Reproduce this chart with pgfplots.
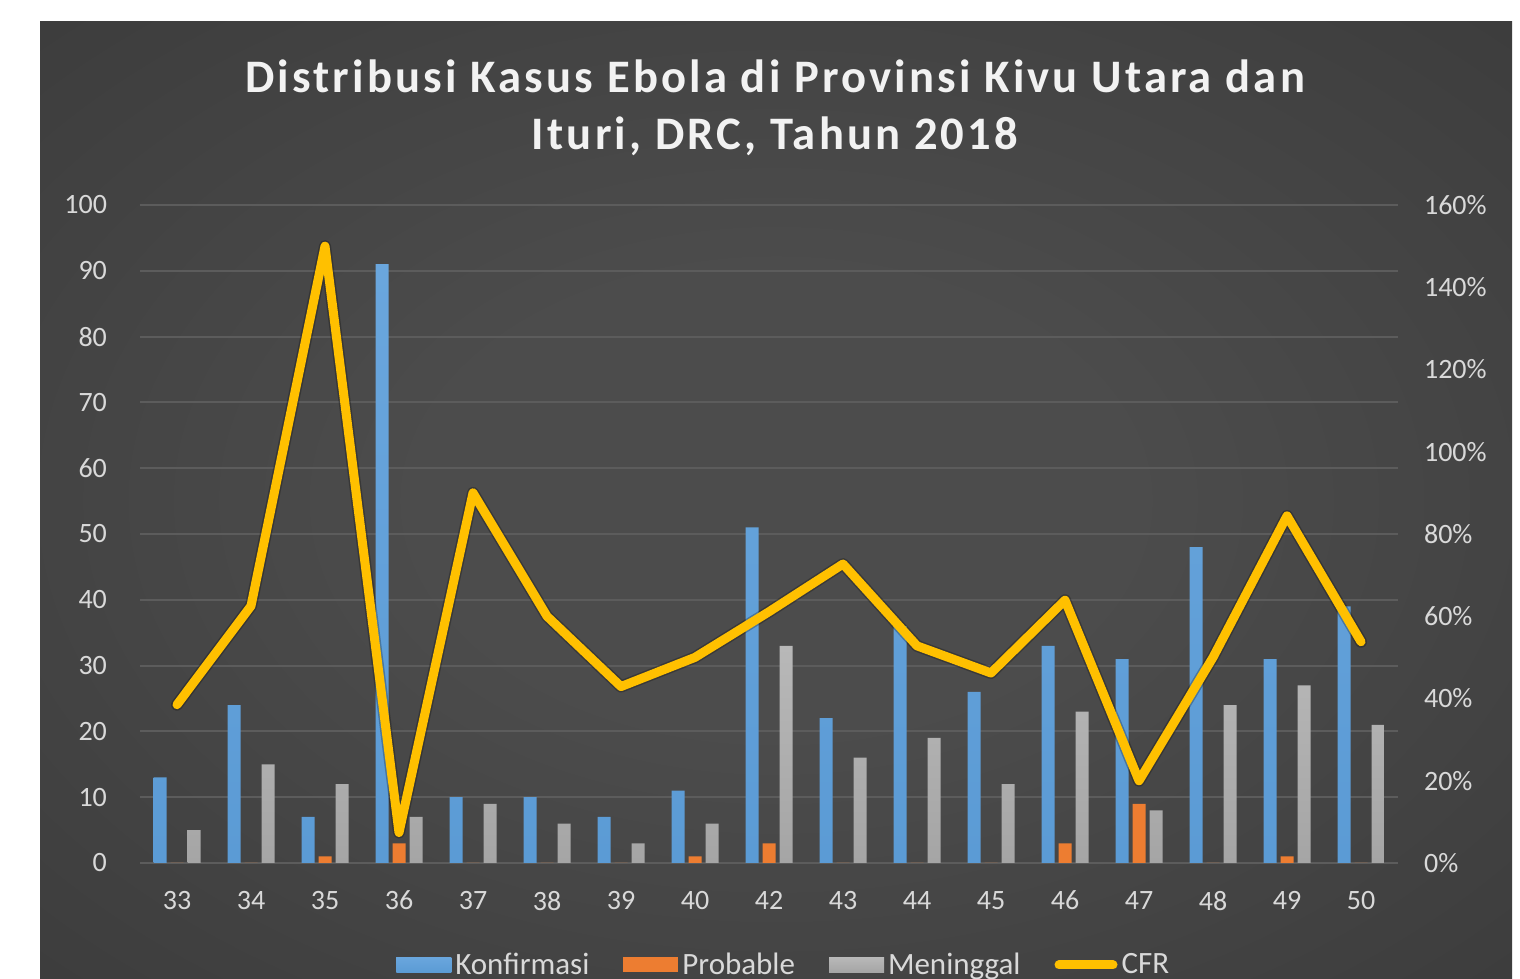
\documentclass[border=0pt]{standalone}
\usepackage{pgfplots}
\pgfplotsset{compat=1.18}
\usepackage{fontspec}
\setmainfont{Carlito}
\newfontfamily\titlefont[LetterSpace=6.8]{Carlito}
\definecolor{konf}{HTML}{5B9BD5}
\definecolor{konftop}{HTML}{6AA6DD}
\definecolor{prob}{HTML}{ED7D31}
\definecolor{mening}{HTML}{A5A5A5}
\definecolor{meningtop}{HTML}{B8B8B8}
\definecolor{cfr}{HTML}{FFC000}
\definecolor{bgin}{HTML}{4C4C4C}
\definecolor{bgout}{HTML}{252525}
\definecolor{gridc}{HTML}{5C5C5C}
\definecolor{basec}{HTML}{BFBFBF}
\definecolor{labc}{HTML}{D9D9D9}
\definecolor{titc}{HTML}{F2F2F2}
\pgfdeclareradialshading{bgshade}{\pgfpoint{0bp}{0bp}}{color(0bp)=(bgin); color(12bp)=(bgin); color(72bp)=(bgout)}
\pgfplotstableread{
x konf prob mening cfr
0 13 0 5 38.5
1 24 0 15 62.5
2 7 1 12 150
3 91 3 7 7.4
4 10 0 9 90
5 10 0 6 60
6 7 0 3 42.9
7 11 1 6 50
8 51 3 33 61.1
9 22 0 16 72.7
10 36 0 19 52.8
11 26 0 12 46.2
12 33 3 23 63.9
13 31 9 8 20
14 48 0 24 50
15 31 1 27 84.4
16 39 0 21 53.8
}\datatable
\begin{document}
\begin{tikzpicture}
\useasboundingbox (0,0) rectangle (760pt,489.5pt);
\clip (0,0) rectangle (760pt,489.5pt);
\fill[white] (0,0) rectangle (760pt,489.5pt);
\shade[shading=bgshade] (20pt,0pt) rectangle (756pt,478.5pt);
\node[anchor=base, text=titc, inner sep=0pt, font=\titlefont\bfseries\fontsize{23.3}{28}\selectfont] at (387.5pt,443pt) {Distribusi Kasus Ebola di Provinsi Kivu Utara dan};
\node[anchor=base, text=titc, inner sep=0pt, font=\titlefont\bfseries\fontsize{23.3}{28}\selectfont] at (387.5pt,414.5pt) {Ituri, DRC, Tahun 2018};
\begin{axis}[
  at={(70pt,58pt)}, anchor=south west, scale only axis,
  width=629pt, height=329pt,
  xmin=-0.5, xmax=16.5, ymin=0, ymax=100,
  xtick={0,...,16},
  xticklabels={33,34,35,36,37,38,39,40,42,43,44,45,46,47,48,49,50},
  ytick={0,10,...,100},
  axis line style={draw=none},
  major tick length=0pt,
  ymajorgrids, major grid style={color=gridc, line width=1pt},
  extra y ticks={0}, extra y tick labels={},
  extra y tick style={grid style={color=basec, line width=1.2pt}},
  /pgf/number format/assume math mode=true,
  tick label style={font=\fontsize{14}{16}\selectfont, text=labc},
  yticklabel style={xshift=-13pt},
  xticklabel style={yshift=-10.5pt},
  legend style={at={(0.5125,-0.155)}, anchor=center, draw=none, fill=none,
    legend columns=4, text=labc, font=\fontsize{15.5}{17}\selectfont,
    /tikz/every even column/.append style={column sep=15pt},
    /tikz/every odd column/.append style={column sep=0pt},
    inner sep=0pt},
  legend cell align=left,
]
\addplot[ybar, bar width=6.5pt, bar shift=-8.5pt, draw=none, top color=konftop, bottom color=konf,
  legend image code/.code={\fill[konf] (0pt,-3.75pt) rectangle (27.5pt,3.75pt);}]
  table[x=x, y=konf] {\datatable};
\addlegendentry{Konfirmasi}
\addplot[ybar, bar width=6.5pt, bar shift=0pt, draw=none, fill=prob,
  legend image code/.code={\fill[prob] (0pt,-3.75pt) rectangle (27.5pt,3.75pt);}]
  table[x=x, y=prob] {\datatable};
\addlegendentry{Probable}
\addplot[ybar, bar width=6.5pt, bar shift=8.5pt, draw=none, top color=meningtop, bottom color=mening,
  legend image code/.code={\fill[mening] (0pt,-3.75pt) rectangle (27.5pt,3.75pt);}]
  table[x=x, y=mening] {\datatable};
\addlegendentry{Meninggal}
\addlegendimage{legend image code/.code={\draw[cfr, line width=4.5pt, line cap=round] (1pt,0pt) -- (28pt,0pt);}}
\addlegendentry{CFR}
\end{axis}
\begin{axis}[
  at={(70pt,58pt)}, anchor=south west, scale only axis,
  width=629pt, height=329pt,
  xmin=-0.5, xmax=16.5, ymin=0, ymax=160,
  axis x line=none, axis y line*=right,
  axis line style={draw=none},
  major tick length=0pt,
  ytick={0,20,...,160},
  yticklabel={\pgfmathprintnumber{\tick}\%},
  /pgf/number format/assume math mode=true,
  tick label style={font=\fontsize{14}{16}\selectfont, text=labc},
  yticklabel style={xshift=9.5pt},
]
\addplot[color=cfr, line width=4.5pt, line join=round, line cap=round,
  preaction={draw=black, opacity=0.25, line width=6pt}]
  table[x=x, y=cfr] {\datatable};
\end{axis}
\end{tikzpicture}
\end{document}
